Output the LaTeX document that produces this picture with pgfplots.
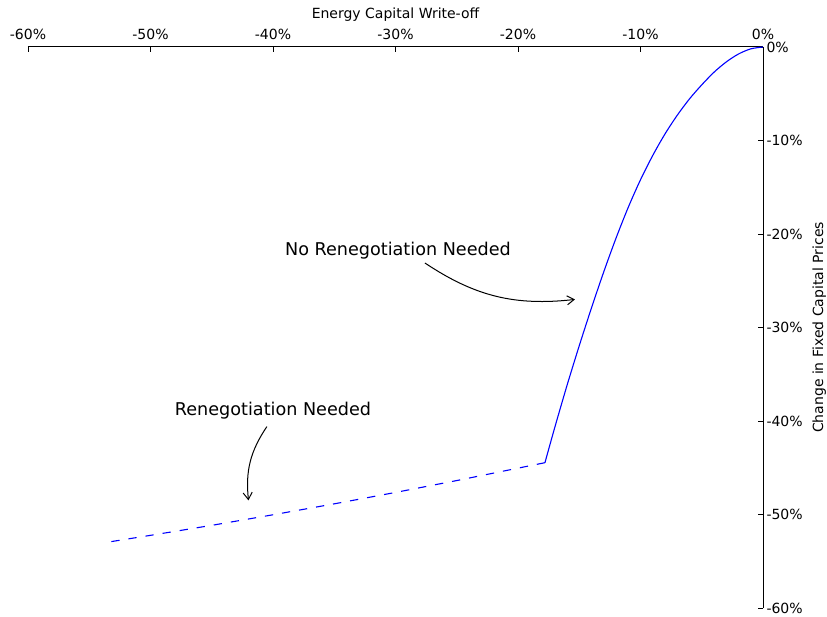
\documentclass[border=0pt]{standalone}
\usepackage{fontspec}
\setmainfont{DejaVu Sans}
\usepackage{pgfplots}
\pgfplotsset{compat=1.18}
\usetikzlibrary{arrows.meta}

\begin{document}
\begin{tikzpicture}
\useasboundingbox (-28pt,-9pt) rectangle (799pt,608pt);
\begin{axis}[
  at={(0,0)}, anchor=south west,
  scale only axis, width=735pt, height=561pt,
  xmin=-60, xmax=0, ymin=-60, ymax=0,
  axis x line*=top, axis y line*=right,
  axis line style={line width=1pt, black},
  tick align=inside,
  major tick length=5pt,
  every tick/.style={black, line width=0.8pt},
  xtick={-60,-50,-40,-30,-20,-10,0},
  xticklabels={-60\%,-50\%,-40\%,-30\%,-20\%,-10\%,0\%},
  ytick={-60,-50,-40,-30,-20,-10,0},
  yticklabels={-60\%,-50\%,-40\%,-30\%,-20\%,-10\%,0\%},
  ticklabel style={font=\fontsize{14}{16}\selectfont},
  xticklabel style={yshift=3.5pt},
  label style={font=\fontsize{14}{16}\selectfont},
  xlabel={Energy Capital Write-off},
  ylabel={Change in Fixed Capital Prices},
  xlabel shift=1pt,
  ylabel shift=3pt,
  clip=false,
]
\addplot[blue, line width=1.1pt, smooth, tension=0.5] coordinates {
(0,0) (-1,-0.2) (-2,-0.75) (-3,-1.6) (-4,-2.7) (-5,-4.05) (-6,-5.55)
(-7,-7.3) (-8,-9.3) (-9,-11.6) (-10,-14.2) (-11,-17.15) (-12,-20.45)
(-13,-24.05) (-14,-27.9) (-15,-31.95) (-16,-36.2) (-17,-40.7) (-17.8,-44.46)
};
\addplot[blue, line width=1.1pt, dash pattern=on 8.3pt off 9pt] coordinates {
(-17.8,-44.46) (-25,-46.37) (-30,-47.64) (-35,-48.86) (-40,-50.03)
(-45,-51.16) (-50,-52.23) (-53.4,-52.94)
};
\node[font=\fontsize{17.6}{20}\selectfont] at (axis cs:-29.8,-21.8) {No Renegotiation Needed};
\draw[line width=1pt, -{Straight Barb[length=7pt,width=9pt]}] (axis cs:-27.6,-23.1) to[bend right=20] (axis cs:-15.35,-27.0);
\node[font=\fontsize{17.6}{20}\selectfont] at (axis cs:-40.0,-38.9) {Renegotiation Needed};
\draw[line width=1pt, -{Straight Barb[length=7pt,width=9pt]}] (axis cs:-40.5,-40.6) to[bend right=20] (axis cs:-42.0,-48.5);
\end{axis}
\end{tikzpicture}
\end{document}
